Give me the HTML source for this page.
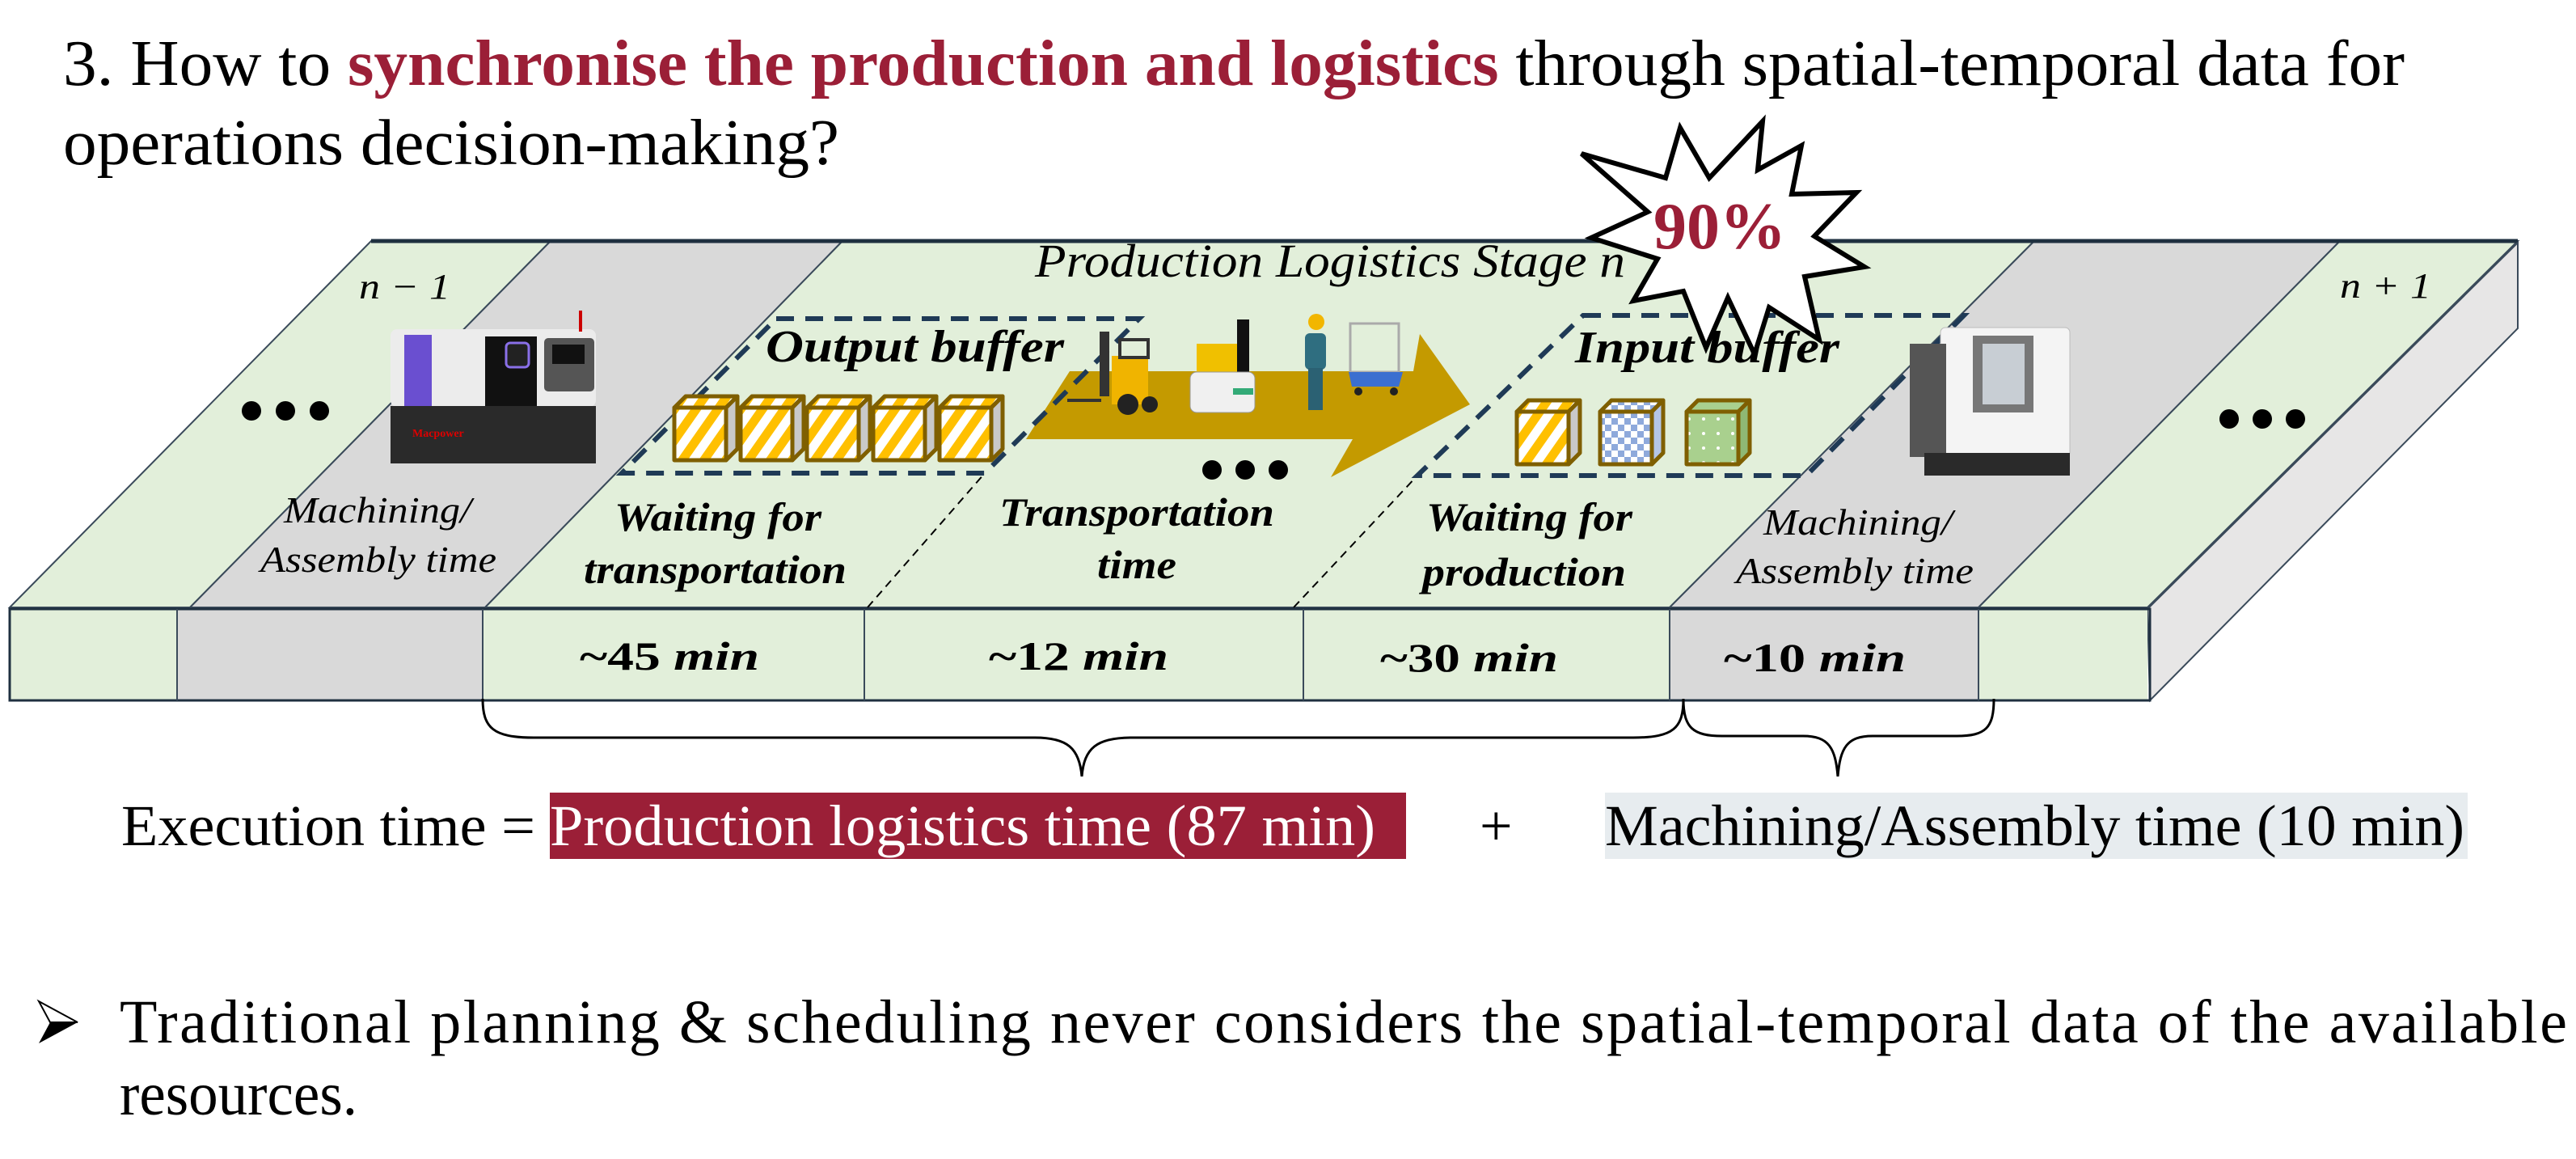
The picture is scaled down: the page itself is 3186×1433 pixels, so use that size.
<!DOCTYPE html>
<html><head><meta charset="utf-8"><style>
html,body{margin:0;padding:0;background:#fff}
svg{display:block}
svg text{font-family:"Liberation Serif","Times New Roman",serif}
</style></head><body>
<svg width="3186" height="1433" viewBox="0 0 3186 1433" xmlns="http://www.w3.org/2000/svg" font-family="Liberation Serif, serif">
<defs>
<pattern id="ys" width="22" height="22" patternUnits="userSpaceOnUse" patternTransform="rotate(35)">
<rect width="22" height="22" fill="#fff"/><rect width="11" height="22" fill="#ffc000"/></pattern>
<pattern id="bc" width="16" height="16" patternUnits="userSpaceOnUse">
<rect width="16" height="16" fill="#fff"/><rect width="8" height="8" fill="#8ea9db"/><rect x="8" y="8" width="8" height="8" fill="#8ea9db"/></pattern>
<pattern id="gd" width="18" height="18" patternUnits="userSpaceOnUse">
<rect width="18" height="18" fill="#a9d08e"/><circle cx="9" cy="9" r="2" fill="#fff"/></pattern>
</defs>

<!-- title -->
<text x="78" y="105" font-size="80" font-family="Liberation Serif, serif" textLength="2896" lengthAdjust="spacingAndGlyphs">3. How to <tspan font-weight="bold" fill="#9b1f37">synchronise the production and logistics</tspan> through spatial-temporal data for</text>
<text x="78" y="203" font-size="80" font-family="Liberation Serif, serif" textLength="960" lengthAdjust="spacingAndGlyphs">operations decision-making?</text>

<!-- top surface strips -->
<polygon points="459,298 681,298 235,751 12,751" fill="#e2efda" stroke="#3a4a5a" stroke-width="2"/>
<polygon points="681,298 1042,298 600,751 235,751" fill="#d9d9d9" stroke="#3a4a5a" stroke-width="2"/>
<polygon points="1042,298 2516,298 2065,751 600,751" fill="#e2efda" stroke="#3a4a5a" stroke-width="2"/>
<polygon points="2516,298 2894,298 2447,751 2065,751" fill="#d9d9d9" stroke="#3a4a5a" stroke-width="2"/>
<line x1="2900" y1="298" x2="2453" y2="751" stroke="#3a4a5a" stroke-width="2"/>
<polygon points="2894,298 3114,298 2656,751 2447,751" fill="#e2efda" stroke="#3a4a5a" stroke-width="2"/>
<line x1="459" y1="298" x2="3114" y2="298" stroke="#1f3040" stroke-width="5"/>
<!-- side face -->
<polygon points="2656,753 3114,300 3114,406 2659,866" fill="#e7e6e6" stroke="#3a4a5a" stroke-width="2"/>
<!-- front face -->
<rect x="12" y="753" width="207" height="113" fill="#e2efda"/>
<rect x="219" y="753" width="378" height="113" fill="#d9d9d9"/>
<rect x="597" y="753" width="1468" height="113" fill="#e2efda"/>
<rect x="2065" y="753" width="382" height="113" fill="#d9d9d9"/>
<rect x="2447" y="753" width="209" height="113" fill="#e2efda"/>
<rect x="12" y="753" width="2647" height="113" fill="none" stroke="#1f3040" stroke-width="3"/>
<g stroke="#3a4a5a" stroke-width="2">
<line x1="219" y1="753" x2="219" y2="866"/><line x1="597" y1="753" x2="597" y2="866"/>
<line x1="1069" y1="753" x2="1069" y2="866"/><line x1="1612" y1="753" x2="1612" y2="866"/>
<line x1="2065" y1="753" x2="2065" y2="866"/><line x1="2447" y1="753" x2="2447" y2="866"/>
</g>

<!-- thin dashed separators -->
<polyline points="1073,751 1218,585" fill="none" stroke="#000" stroke-width="2" stroke-dasharray="10 7"/>
<polyline points="1600,751 1753,588" fill="none" stroke="#000" stroke-width="2" stroke-dasharray="10 7"/>

<!-- arrow -->
<polygon points="1323,459 1748,459 1756,413 1818,500 1646,590 1673,543 1269,543" fill="#c49a00"/>

<!-- buffers -->
<polygon points="960,394 1409,394 1218,585 769,585" fill="none" stroke="#1f3a56" stroke-width="6" stroke-dasharray="22 14"/>
<polygon points="1958,390 2429,390 2234,588 1753,588" fill="none" stroke="#1f3a56" stroke-width="6" stroke-dasharray="22 14"/>

<!-- cubes -->
<g stroke="#7f5f00" stroke-width="5" stroke-linejoin="round">
<g id="c1"><polygon points="834,504 848,490 912,490 898,504" fill="url(#ys)"/><polygon points="898,504 912,490 912,555 898,569" fill="#c9c9c9"/><rect x="834" y="504" width="64" height="65" fill="url(#ys)"/></g>
<use href="#c1" x="82"/><use href="#c1" x="164"/><use href="#c1" x="246"/><use href="#c1" x="328"/>
<use href="#c1" x="1042" y="5"/>
<g transform="translate(1145,5)"><polygon points="834,504 848,490 912,490 898,504" fill="url(#bc)"/><polygon points="898,504 912,490 912,555 898,569" fill="#b4c6e7"/><rect x="834" y="504" width="64" height="65" fill="url(#bc)"/></g>
<g transform="translate(1252,5)"><polygon points="834,504 848,490 912,490 898,504" fill="#a9d08e"/><polygon points="898,504 912,490 912,555 898,569" fill="#8fb874"/><rect x="834" y="504" width="64" height="65" fill="url(#gd)"/></g>
</g>

<!-- machine 1 -->
<rect x="483" y="407" width="254" height="96" rx="8" fill="#ececec"/>
<rect x="500" y="414" width="34" height="88" fill="#6a4fd0"/>
<rect x="600" y="416" width="64" height="86" fill="#111"/>
<rect x="626" y="424" width="28" height="30" rx="5" fill="#222" stroke="#8a70e8" stroke-width="3"/>
<rect x="673" y="418" width="62" height="66" rx="5" fill="#555"/>
<rect x="683" y="426" width="40" height="24" fill="#111"/>
<rect x="716" y="384" width="4" height="26" fill="#c00"/>
<rect x="483" y="502" width="254" height="71" fill="#2a2a2a"/>
<text x="510" y="540" font-size="14" fill="#d00" font-weight="bold">Macpower</text>
<!-- machine 2 -->
<rect x="2400" y="405" width="160" height="160" rx="6" fill="#f4f4f4" stroke="#bbb"/>
<rect x="2362" y="425" width="45" height="140" fill="#555"/>
<rect x="2440" y="415" width="75" height="95" fill="#777"/>
<rect x="2452" y="425" width="52" height="75" fill="#c8ced4"/>
<rect x="2380" y="560" width="180" height="28" fill="#2a2a2a"/>

<!-- forklift -->
<rect x="1360" y="410" width="12" height="80" fill="#333"/>
<rect x="1375" y="440" width="45" height="60" fill="#f0b400"/>
<rect x="1385" y="420" width="35" height="22" fill="none" stroke="#333" stroke-width="4"/>
<circle cx="1395" cy="500" r="13" fill="#222"/><circle cx="1422" cy="500" r="10" fill="#222"/>
<line x1="1320" y1="495" x2="1362" y2="495" stroke="#333" stroke-width="4"/>
<!-- AGV -->
<rect x="1480" y="425" width="50" height="40" fill="#f0c000"/>
<rect x="1530" y="395" width="15" height="70" fill="#111"/>
<rect x="1472" y="460" width="80" height="50" rx="8" fill="#f0f0f0" stroke="#999"/>
<rect x="1525" y="480" width="25" height="8" fill="#3a7"/>
<!-- worker -->
<circle cx="1628" cy="398" r="10" fill="#f2b600"/>
<rect x="1614" y="412" width="26" height="45" rx="6" fill="#2f6e80"/>
<rect x="1618" y="455" width="18" height="52" fill="#2b6173"/>
<!-- cart -->
<rect x="1670" y="400" width="60" height="60" fill="none" stroke="#aaa" stroke-width="3"/>
<polygon points="1668,460 1735,460 1730,478 1672,478" fill="#3b6fd0"/>
<circle cx="1680" cy="484" r="5" fill="#222"/><circle cx="1724" cy="484" r="5" fill="#222"/>

<!-- dots -->
<g fill="#000">
<circle cx="311" cy="508" r="12"/><circle cx="353" cy="508" r="12"/><circle cx="395" cy="508" r="12"/>
<circle cx="1499" cy="581" r="12"/><circle cx="1540" cy="581" r="12"/><circle cx="1581" cy="581" r="12"/>
<circle cx="2757" cy="518" r="12"/><circle cx="2798" cy="518" r="12"/><circle cx="2839" cy="518" r="12"/>
</g>

<!-- labels -->
<g font-style="italic" font-family="Liberation Serif, serif">
<text x="1280" y="342" font-size="58" textLength="730" lengthAdjust="spacingAndGlyphs">Production Logistics Stage n</text>
<text x="444" y="369" font-size="44" textLength="113" lengthAdjust="spacingAndGlyphs">n − 1</text>
<text x="2894" y="368" font-size="44" textLength="113" lengthAdjust="spacingAndGlyphs">n + 1</text>
<text x="351" y="646" font-size="46" textLength="232" lengthAdjust="spacingAndGlyphs">Machining/</text>
<text x="322" y="707" font-size="46" textLength="292" lengthAdjust="spacingAndGlyphs">Assembly time</text>
<text x="2181" y="661" font-size="46" textLength="234" lengthAdjust="spacingAndGlyphs">Machining/</text>
<text x="2147" y="721" font-size="46" textLength="294" lengthAdjust="spacingAndGlyphs">Assembly time</text>
<g font-weight="bold">
<text x="947" y="447" font-size="56" textLength="369" lengthAdjust="spacingAndGlyphs">Output buffer</text>
<text x="1948" y="448" font-size="56" textLength="327" lengthAdjust="spacingAndGlyphs">Input buffer</text>
<text x="760" y="656" font-size="50" textLength="256" lengthAdjust="spacingAndGlyphs">Waiting for</text>
<text x="722" y="721" font-size="50" textLength="325" lengthAdjust="spacingAndGlyphs">transportation</text>
<text x="1236" y="650" font-size="50" textLength="340" lengthAdjust="spacingAndGlyphs">Transportation</text>
<text x="1357" y="715" font-size="50" textLength="98" lengthAdjust="spacingAndGlyphs">time</text>
<text x="1764" y="656" font-size="50" textLength="255" lengthAdjust="spacingAndGlyphs">Waiting for</text>
<text x="1759" y="724" font-size="50" textLength="252" lengthAdjust="spacingAndGlyphs">production</text>
</g></g>
<g font-weight="bold" font-size="50" font-family="Liberation Serif, serif">
<text x="717" y="828" textLength="222" lengthAdjust="spacingAndGlyphs">~45 <tspan font-style="italic">min</tspan></text>
<text x="1223" y="828" textLength="222" lengthAdjust="spacingAndGlyphs">~12 <tspan font-style="italic">min</tspan></text>
<text x="1707" y="830" textLength="220" lengthAdjust="spacingAndGlyphs">~30 <tspan font-style="italic">min</tspan></text>
<text x="2132" y="830" textLength="225" lengthAdjust="spacingAndGlyphs">~10 <tspan font-style="italic">min</tspan></text>
</g>

<!-- star -->
<polygon points="2180,150 2174,210 2228,180 2216,240 2296,238 2244,292 2306,330 2232,342 2250,420 2188,380 2170,438 2137,368 2110,430 2082,360 2020,372 2050,320 1968,294 2038,262 1956,190 2060,220 2078,158 2114,220" fill="#fff" stroke="#000" stroke-width="6" stroke-linejoin="miter"/>
<text x="2045" y="307" font-size="82" font-weight="bold" fill="#9b1f37" font-family="Liberation Serif, serif" textLength="164" lengthAdjust="spacingAndGlyphs">90%</text>

<!-- braces -->
<path d="M597,864 C597,900 610,912 660,912 L1280,912 C1320,912 1335,925 1338,960 C1341,925 1356,912 1400,912 L2020,912 C2070,912 2082,900 2082,864" fill="none" stroke="#000" stroke-width="3"/>
<path d="M2082,864 C2082,900 2094,910 2130,910 L2230,910 C2262,910 2270,925 2273,960 C2276,925 2284,910 2316,910 L2420,910 C2456,910 2466,900 2466,864" fill="none" stroke="#000" stroke-width="3"/>

<!-- execution -->
<rect x="680" y="980" width="1059" height="82" fill="#9b1f37"/>
<rect x="1985" y="980" width="1067" height="82" fill="#e7ecef"/>
<g font-family="Liberation Serif, serif" font-size="72">
<text x="150" y="1045" textLength="512" lengthAdjust="spacingAndGlyphs">Execution time =</text>
<text x="680" y="1045" fill="#fff" textLength="1021" lengthAdjust="spacingAndGlyphs">Production logistics time (87 min)</text>
<text x="1830" y="1045">+</text>
<text x="1985" y="1045" textLength="1063" lengthAdjust="spacingAndGlyphs">Machining/Assembly time (10 min)</text>
</g>

<!-- bullet -->
<polygon points="48,1238 96,1264 48,1290 62,1264" fill="#000"/>
<polygon points="48,1238 96,1264 62,1264" fill="#fff" stroke="#000" stroke-width="2"/>
<g font-family="Liberation Serif, serif" font-size="76">
<text x="148" y="1289" textLength="3027" lengthAdjust="spacing">Traditional planning &amp; scheduling never considers the spatial-temporal data of the available</text>
<text x="148" y="1378" textLength="294" lengthAdjust="spacingAndGlyphs">resources.</text>
</g>
</svg>
</body></html>
